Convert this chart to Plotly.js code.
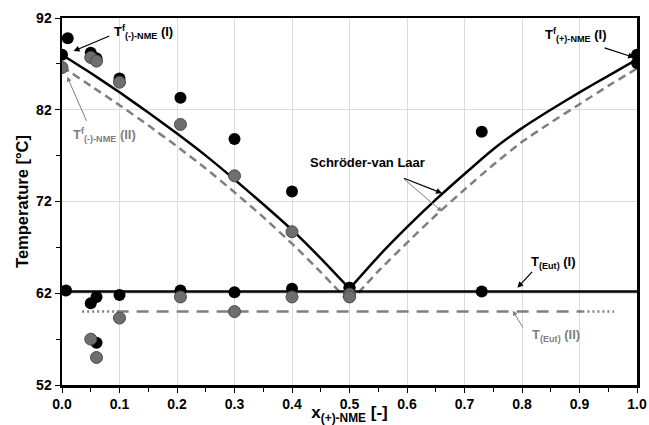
<!DOCTYPE html>
<html><head><meta charset="utf-8">
<script src="https://cdn.plot.ly/plotly-3.0.1.min.js"></script>
<style>html,body{margin:0;padding:0;background:#fff}#chart{width:649px;height:425px}</style>
</head><body><div id="chart"></div>
<script>
// Experimental points, series (I) black
const xExpI = [0.0, 0.01, 0.05, 0.06, 0.10, 0.206, 0.30, 0.40, 0.50, 0.73, 1.0, 1.0];
const tExpI = [88.0, 89.8, 88.2, 87.6, 85.4, 83.3, 78.8, 73.1, 62.6, 79.6, 88.0, 87.1];
// Eutectic points (I)
const xEutPtsI = [0.007, 0.05, 0.06, 0.06, 0.10, 0.206, 0.30, 0.40, 0.50, 0.73];
const tEutPtsI = [62.3, 60.9, 61.6, 56.6, 61.8, 62.3, 62.1, 62.5, 62.6, 62.2];
// Experimental points, series (II) grey
const xExpII = [0.0, 0.05, 0.06, 0.10, 0.206, 0.30, 0.40, 0.50];
const tExpII = [86.6, 87.7, 87.3, 85.0, 80.4, 74.8, 68.7, 61.9];
// Eutectic points (II)
const xEutPtsII = [0.05, 0.06, 0.10, 0.206, 0.30, 0.40, 0.50];
const tEutPtsII = [57.0, 55.0, 59.3, 61.6, 60.0, 61.6, 61.6];
// Schröder-van Laar liquidus, left and right branches
const xSvLLeft = [0, 0.05, 0.1, 0.15, 0.2, 0.25, 0.3, 0.35, 0.4, 0.45, 0.5];
const xSvLRight = [0.5, 0.55, 0.6, 0.65, 0.7, 0.75, 0.8, 0.85, 0.9, 0.95, 1.0];
const tSvLILeft = [88.0, 86.0, 83.9, 81.7, 79.4, 77.0, 74.4, 71.7, 68.9, 65.8, 62.5];
const tSvLIRight = [62.5, 66.0, 69.2, 72.2, 75.0, 77.7, 80.0, 82.0, 83.9, 85.7, 87.5];
const tSvLIILeft = [86.7, 84.6, 82.5, 80.3, 78.0, 75.6, 73.0, 70.3, 67.4, 64.3, 61.0];
const tSvLIIRight = [61.0, 64.4, 67.5, 70.5, 73.3, 76.0, 78.5, 80.6, 82.6, 84.6, 86.5];
// Eutectic lines
const xEutLineI = [0, 1];
const tEutLineI = [62.2, 62.2];
const xEutLineIIdotL = [0.035, 0.095];
const xEutLineIIdash = [0.095, 0.905];
const xEutLineIIdotR = [0.905, 0.96];
const tEutII = 60.0;
const xTicks = [0.0, 0.1, 0.2, 0.3, 0.4, 0.5, 0.6, 0.7, 0.8, 0.9, 1.0];
const yTicks = [52, 62, 72, 82, 92];

const F = 'Liberation Sans, Arial, sans-serif';
const BLACK = '#000000', GREY = '#6e6e6e', LGREY = '#7f7f7f';

const dashII = {color: LGREY, width: 2.5, dash: '8px,5px', shape: 'spline', smoothing: 0.5};
const solidI = {color: BLACK, width: 2.5, shape: 'spline', smoothing: 0.5};

const traces = [
  {x: xSvLLeft, y: tSvLIILeft, mode: 'lines', line: dashII},
  {x: xSvLRight, y: tSvLIIRight, mode: 'lines', line: dashII},
  {x: xSvLLeft, y: tSvLILeft, mode: 'lines', line: solidI},
  {x: xSvLRight, y: tSvLIRight, mode: 'lines', line: solidI},
  {x: xEutLineIIdotL, y: xEutLineIIdotL.map(() => tEutII), mode: 'lines', line: {color: LGREY, width: 2.5, dash: '2px,3px'}},
  {x: xEutLineIIdash, y: xEutLineIIdash.map(() => tEutII), mode: 'lines', line: {color: LGREY, width: 2.5, dash: '12px,8px'}},
  {x: xEutLineIIdotR, y: xEutLineIIdotR.map(() => tEutII), mode: 'lines', line: {color: LGREY, width: 2.5, dash: '2px,3px'}},
  {x: xEutLineI, y: tEutLineI, mode: 'lines', line: {color: BLACK, width: 2.5}},
  {x: xExpI, y: tExpI, mode: 'markers', marker: {color: BLACK, size: 12}},
  {x: xEutPtsI, y: tEutPtsI, mode: 'markers', marker: {color: BLACK, size: 12}},
  {x: xExpII, y: tExpII, mode: 'markers', marker: {color: GREY, size: 12, line: {color: '#4a4a4a', width: 1}}},
  {x: xEutPtsII, y: tEutPtsII, mode: 'markers', marker: {color: GREY, size: 12, line: {color: '#4a4a4a', width: 1}}}
];

function arrow(tx, ty, hx, hy, color, w) {
  return {x: hx, y: hy, ax: tx, ay: ty, axref: 'x', ayref: 'y', xref: 'x', yref: 'y', text: '',
    showarrow: true, arrowhead: 2, arrowsize: 1, arrowwidth: w, arrowcolor: color};
}
function label(x, y, text, color, anchor) {
  return {x: x, y: y, xref: 'x', yref: 'y', text: '<b>' + text + '</b>', showarrow: false, xanchor: anchor || 'center',
    yanchor: 'middle', font: {family: F, size: 13, color: color}};
}

const annotations = [
  label(0.087, 90.5, 'T<sup>f</sup><sub>(-)-NME</sub> (I)', BLACK, 'left'),
  arrow(0.085, 90.1, 0.02, 88.4, BLACK, 1.2),
  label(0.015, 79.2, 'T<sup>f</sup><sub>(-)-NME</sub> (II)', LGREY, 'left'),
  arrow(0.044, 80.6, 0.009, 85.6, LGREY, 1),
  label(0.532, 76.2, 'Schröder-van Laar', BLACK),
  arrow(0.592, 74.6, 0.661, 72.9, BLACK, 1.2),
  arrow(0.592, 74.6, 0.661, 70.9, LGREY, 1),
  label(0.855, 65.3, 'T<sub>(Eut)</sub> (I)', BLACK),
  arrow(0.820, 64.5, 0.792, 62.6, BLACK, 1.2),
  label(0.859, 57.4, 'T<sub>(Eut)</sub> (II)', LGREY),
  arrow(0.803, 58.1, 0.784, 60.1, LGREY, 1),
  label(0.893, 90.1, 'T<sup>f</sup><sub>(+)-NME</sub> (I)', BLACK),
  arrow(0.941, 88.8, 0.995, 87.7, BLACK, 1.2)
];

const layout = {
  width: 649, height: 425,
  margin: {l: 62, r: 12, t: 18, b: 40},
  paper_bgcolor: '#ffffff', plot_bgcolor: '#ffffff',
  showlegend: false,
  font: {family: F, size: 13, color: BLACK},
  xaxis: {
    range: [0, 1], tickvals: xTicks, ticktext: xTicks.map(v => '<b>' + v.toFixed(1) + '</b>'),
    showgrid: true, gridcolor: '#dcdcdc', gridwidth: 1,
    showline: true, linecolor: BLACK, linewidth: 2.5, mirror: true,
    ticks: 'outside', ticklen: 5, tickcolor: BLACK, tickwidth: 1,
    minor: {dtick: 0.05, tick0: 0, ticks: 'outside', ticklen: 4, tickcolor: BLACK, showgrid: false},
    zeroline: false,
    tickfont: {family: F, size: 14, color: BLACK},
    title: {text: '<b>x<sub>(+)-NME</sub> [-]</b>', font: {family: F, size: 17, color: BLACK}, standoff: 2}
  },
  yaxis: {
    range: [52, 92], tickvals: yTicks, ticktext: yTicks.map(v => '<b>' + v + '</b>'),
    showgrid: true, gridcolor: '#dcdcdc', gridwidth: 1,
    showline: true, linecolor: BLACK, linewidth: 2.5, mirror: true,
    ticks: 'outside', ticklen: 5, tickcolor: BLACK, tickwidth: 1,
    minor: {dtick: 5, tick0: 52, ticks: 'outside', ticklen: 4, tickcolor: BLACK, showgrid: false},
    zeroline: false,
    tickfont: {family: F, size: 14, color: BLACK},
    title: {text: '<b>Temperature [°C]</b>', font: {family: F, size: 16.5, color: BLACK}, standoff: 4}
  },
  annotations: annotations
};

Plotly.newPlot('chart', traces, layout, {staticPlot: true, displayModeBar: false});
</script></body></html>
